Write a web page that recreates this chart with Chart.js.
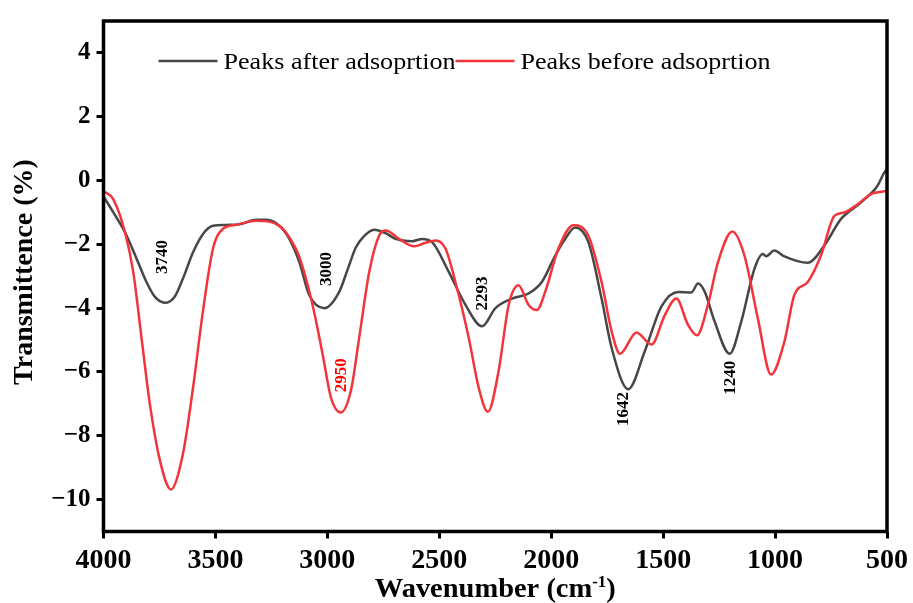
<!DOCTYPE html>
<html>
<head>
<meta charset="utf-8">
<script src="https://cdn.jsdelivr.net/npm/chart.js@4.4.1/dist/chart.umd.min.js"></script>
<style>
  html, body { margin: 0; padding: 0; background: #ffffff; }
  canvas { display: block; }
</style>
</head>
<body>
<canvas id="ftir" width="913" height="603"></canvas>
<script>
// FTIR spectra: wavenumber (cm-1) and transmittance (%)
const seriesNames = ['Peaks after adsoprtion', 'Peaks before adsoprtion'];

const wavenumberAfter = [4000, 3956, 3904, 3852, 3808, 3771, 3726, 3682, 3645, 3600, 3556, 3511, 3452, 3392, 3318, 3273, 3214, 3170, 3125, 3081, 3014, 2947, 2910, 2873, 2836, 2791, 2740, 2695, 2621, 2576, 2532, 2457, 2383, 2309, 2249, 2175, 2101, 2042, 1982, 1938, 1893, 1834, 1775, 1730, 1656, 1582, 1508, 1433, 1374, 1344, 1314, 1270, 1203, 1151, 1092, 1055, 1040, 1003, 958, 854, 780, 706, 617, 543, 513, 500];
const transAfter = [-0.50, -1.00, -1.62, -2.45, -3.18, -3.64, -3.83, -3.64, -3.07, -2.25, -1.68, -1.42, -1.39, -1.37, -1.23, -1.23, -1.42, -1.83, -2.56, -3.59, -4.00, -3.49, -2.80, -2.10, -1.74, -1.54, -1.65, -1.83, -1.90, -1.83, -1.93, -2.87, -3.90, -4.57, -4.00, -3.70, -3.54, -3.18, -2.35, -1.83, -1.47, -1.93, -3.70, -5.25, -6.54, -5.35, -3.95, -3.49, -3.51, -3.23, -3.49, -4.42, -5.43, -4.42, -2.76, -2.30, -2.37, -2.19, -2.38, -2.58, -2.04, -1.21, -0.69, -0.17, 0.24, 0.35];

const wavenumberBefore = [4000, 3956, 3904, 3867, 3830, 3793, 3748, 3699, 3645, 3600, 3556, 3511, 3467, 3407, 3318, 3214, 3170, 3125, 3066, 3021, 2984, 2940, 2895, 2858, 2813, 2769, 2739, 2680, 2613, 2561, 2516, 2472, 2428, 2368, 2324, 2283, 2235, 2190, 2146, 2101, 2064, 2027, 1968, 1901, 1834, 1775, 1730, 1693, 1619, 1552, 1492, 1441, 1389, 1349, 1300, 1255, 1191, 1137, 1077, 1018, 958, 914, 854, 795, 735, 691, 632, 573, 500];
const transBefore = [-0.33, -0.59, -1.62, -2.87, -4.94, -7.00, -8.77, -9.68, -8.56, -6.49, -4.11, -2.14, -1.52, -1.39, -1.26, -1.42, -1.78, -2.40, -3.90, -5.45, -6.80, -7.27, -6.59, -4.94, -2.87, -1.73, -1.57, -1.83, -2.06, -1.95, -1.88, -2.14, -3.18, -4.94, -6.49, -7.25, -5.97, -3.90, -3.28, -3.90, -4.06, -3.49, -2.14, -1.40, -1.73, -3.18, -4.73, -5.43, -4.76, -5.14, -4.21, -3.70, -4.52, -4.85, -3.90, -2.56, -1.60, -2.35, -4.32, -6.08, -5.04, -3.59, -3.18, -2.35, -1.11, -1.00, -0.75, -0.43, -0.33];

const xTicks = [4000, 3500, 3000, 2500, 2000, 1500, 1000, 500];
const yTicks = [-10, -8, -6, -4, -2, 0, 2, 4];

// Peak annotations (band positions written next to the minima)
const peakLabels = ['3740', '3000', '2293', '2950', '1642', '1240'];
const peakLabelX = [3734, 3003, 2305, 2937, 1678, 1197];
const peakLabelY = [-2.40, -2.77, -3.54, -6.10, -7.16, -6.18];
const peakLabelSeries = [0, 0, 0, 1, 0, 0];

const lineColors = ['#474747', '#f3343a'];
const labelColors = ['#000000', '#ff0000'];
const SERIF = '"Liberation Serif", "Times New Roman", serif';

const toPoints = (xs, ys) => xs.map((v, i) => ({ x: v, y: ys[i] }));

const decorations = {
  id: 'decorations',
  afterDatasetsDraw(chart) {
    const { ctx, chartArea: a, scales: { x, y } } = chart;

    // peak band labels, rotated to read upwards
    ctx.save();
    ctx.font = 'bold 17px ' + SERIF;
    ctx.textAlign = 'center';
    ctx.textBaseline = 'middle';
    peakLabels.forEach((t, i) => {
      ctx.save();
      ctx.translate(x.getPixelForValue(peakLabelX[i]), y.getPixelForValue(peakLabelY[i]));
      ctx.rotate(-Math.PI / 2);
      ctx.fillStyle = labelColors[peakLabelSeries[i]];
      ctx.fillText(t, 0, 0);
      ctx.restore();
    });
    ctx.restore();

    // legend: line samples followed by series names, in one row
    ctx.save();
    ctx.font = '24px ' + SERIF;
    ctx.textBaseline = 'alphabetic';
    ctx.textAlign = 'left';
    let lx = a.left + 55;
    const ly = a.top + 40;
    chart.data.datasets.forEach((ds, i) => {
      ctx.strokeStyle = ds.borderColor;
      ctx.lineWidth = 2.5;
      ctx.beginPath();
      ctx.moveTo(lx, ly);
      ctx.lineTo(lx + 59, ly);
      ctx.stroke();
      lx += 65;
      ctx.fillStyle = '#000';
      const w = ctx.measureText(ds.label).width;
      const target = i === 0 ? 232 : 250;
      ctx.save();
      ctx.translate(lx, ly + 8);
      ctx.scale(target / w, 1);
      ctx.fillText(ds.label, 0, 0);
      ctx.restore();
      lx += target;
    });
    ctx.restore();
  },
  afterDraw(chart) {
    const { ctx, chartArea: a } = chart;

    // closed frame around the plot
    ctx.save();
    ctx.strokeStyle = '#000';
    ctx.lineWidth = 3.5;
    ctx.strokeRect(a.left, a.top, a.right - a.left, a.bottom - a.top);
    ctx.restore();

    // y-axis title
    ctx.save();
    ctx.font = 'bold 28px ' + SERIF;
    ctx.fillStyle = '#000';
    ctx.textAlign = 'center';
    ctx.textBaseline = 'alphabetic';
    ctx.translate(32, 272);
    ctx.rotate(-Math.PI / 2);
    ctx.fillText('Transmittence (%)', 0, 0);
    ctx.restore();

    // x-axis title with superscript
    ctx.save();
    ctx.fillStyle = '#000';
    ctx.textBaseline = 'alphabetic';
    ctx.textAlign = 'left';
    const big = 'bold 27px ' + SERIF;
    const small = 'bold 16px ' + SERIF;
    const p1 = 'Wavenumber (cm', p2 = '-1', p3 = ')';
    ctx.font = big;
    const w1 = ctx.measureText(p1).width, w3 = ctx.measureText(p3).width;
    ctx.font = small;
    const w2 = ctx.measureText(p2).width;
    const total = w1 + w2 + w3;
    const sx = 241 / total;
    const cx = (a.left + a.right) / 2;
    ctx.translate(cx - 241 / 2, 597);
    ctx.scale(sx, 1);
    ctx.font = big;
    ctx.fillText(p1, 0, 0);
    ctx.font = small;
    ctx.fillText(p2, w1, -10);
    ctx.font = big;
    ctx.fillText(p3, w1 + w2, 0);
    ctx.restore();
  }
};

new Chart(document.getElementById('ftir'), {
  type: 'line',
  data: {
    datasets: [
      {
        label: seriesNames[0],
        data: toPoints(wavenumberAfter, transAfter),
        borderColor: lineColors[0],
        borderWidth: 2.5,
        pointRadius: 0,
        cubicInterpolationMode: 'monotone',
        fill: false,
        order: 1
      },
      {
        label: seriesNames[1],
        data: toPoints(wavenumberBefore, transBefore),
        borderColor: lineColors[1],
        borderWidth: 2.5,
        pointRadius: 0,
        cubicInterpolationMode: 'monotone',
        fill: false,
        order: 0
      }
    ]
  },
  options: {
    responsive: false,
    animation: false,
    devicePixelRatio: 1,
    layout: { padding: { left: 0, right: 23.5, top: 16, bottom: 0 } },
    plugins: { legend: { display: false }, tooltip: { enabled: false } },
    scales: {
      x: {
        type: 'linear',
        reverse: true,
        min: 500,
        max: 4000,
        afterBuildTicks: s => { s.ticks = xTicks.map(v => ({ value: v })); },
        afterFit: s => { s.height = 71.5; },
        grid: { display: true, drawOnChartArea: false, drawTicks: true, tickLength: 7, tickWidth: 3, tickColor: '#000' },
        border: { display: false },
        ticks: {
          color: '#000',
          padding: 5,
          maxRotation: 0,
          font: { family: SERIF, size: 28, weight: 'bold' },
          callback: v => String(v)
        }
      },
      y: {
        type: 'linear',
        min: -11,
        max: 5,
        afterBuildTicks: s => { s.ticks = yTicks.map(v => ({ value: v })); },
        afterFit: s => { s.width = 103.5; },
        grid: { display: true, drawOnChartArea: false, drawTicks: true, tickLength: 7, tickWidth: 3, tickColor: '#000' },
        border: { display: false },
        ticks: {
          color: '#000',
          padding: 6,
          font: { family: SERIF, size: 25, weight: 'bold' },
          callback: v => (v < 0 ? '\u2212' + Math.abs(v) : String(v))
        }
      }
    }
  },
  plugins: [decorations]
});
</script>
</body>
</html>
